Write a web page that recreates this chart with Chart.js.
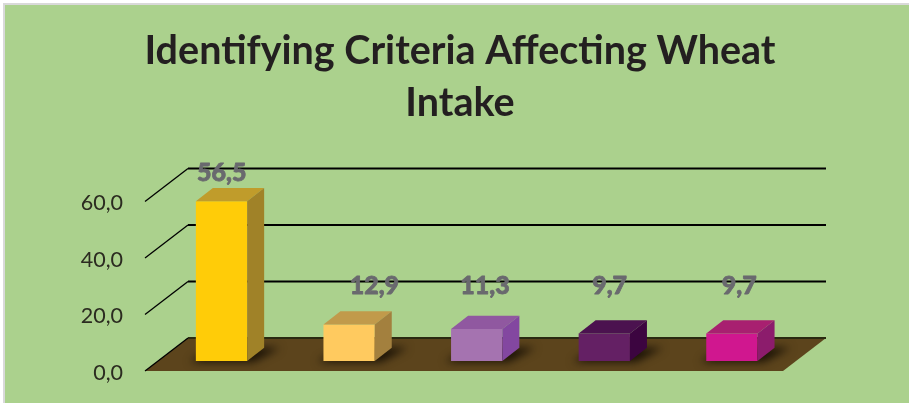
<!DOCTYPE html>
<html>
<head>
<meta charset="utf-8">
<title>Wheat intake criteria</title>
<script src="https://cdn.jsdelivr.net/npm/chart.js@4"></script>
<style>
    html, body { margin: 0; padding: 0; background: #ffffff; overflow: hidden; }
    #frame {
        position: absolute; left: 3px; top: 3px; width: 904px; height: 398px;
        border-left: 2px solid #d9d9d9; border-top: 2px solid #d9d9d9;
        background: #abd18d;
    }
</style>
</head>
<body>
<div id="frame"><canvas id="wheat_chart" width="904" height="398"></canvas></div>
<script>
var categories = ['1', '2', '3', '4', '5'];
var values = [56.5, 12.9, 11.3, 9.7, 9.7];
var tickLabels = ['0,0', '20,0', '40,0', '60,0'];
var titleLines = ['Identifying Criteria Affecting Wheat', 'Intake'];

var frontColors = ['#ffcc08', '#ffca5f', '#a573b0', '#642064', '#d0178f'];
var topColors = ['#c09c2b', '#c19a4b', '#9058a0', '#4b124f', '#a82070'];
var sideColors = ['#a08228', '#a3803e', '#8347a0', '#3c0540', '#8c1c6c'];
// hand placed value labels, relative to the top of each bar
var labelShift = [[13, -38], [38, -49], [21, -53], [18, -58], [20, -58]];

// fake 3d: wall depth, where the bars stand on the floor, and bar depth
var wall = { dx: 43, dy: 33 };
var stand = { dx: 12.7, dy: 10 };
var depth = { dx: 17, dy: 13.3 };

function fmt(v) {
    return v.toFixed(1).replace('.', ',');
}

function poly(ctx, pts, color) {
    ctx.beginPath();
    ctx.moveTo(pts[0][0], pts[0][1]);
    for (var i = 1; i < pts.length; i++) ctx.lineTo(pts[i][0], pts[i][1]);
    ctx.closePath();
    ctx.fillStyle = color;
    ctx.fill();
}

var box3d = {
    id: 'box3d',
    beforeDatasetsDraw: function(chart) {
        var ctx = chart.ctx;
        var area = chart.chartArea;
        var yScale = chart.scales.y;
        var y0 = yScale.getPixelForValue(0);
        var floor = [[area.left, y0], [area.right, y0],
            [area.right + wall.dx, y0 - wall.dy], [area.left + wall.dx, y0 - wall.dy]];

        ctx.save();
        poly(ctx, floor, '#5c441c');

        // shadows on the floor
        ctx.save();
        ctx.beginPath();
        floor.forEach(function(p) { ctx.lineTo(p[0], p[1]); });
        ctx.closePath();
        ctx.clip();
        ctx.filter = 'blur(4px)';
        chart.getDatasetMeta(0).data.forEach(function(bar) {
            var l = bar.x - bar.width / 2 + stand.dx;
            var r = bar.x + bar.width / 2 + stand.dx;
            var b = bar.base - stand.dy;
            poly(ctx, [[l - 6, b + 1], [r + 6, b + 1], [r + depth.dx + 16, b - depth.dy],
                [l + depth.dx, b - depth.dy]], '#1a1206');
        });
        ctx.restore();

        // wall lines
        yScale.ticks.forEach(function(t) {
            var y = yScale.getPixelForValue(t.value);
            ctx.strokeStyle = '#000000';
            ctx.lineWidth = 1.3;
            ctx.beginPath();
            ctx.moveTo(area.left, y);
            ctx.lineTo(area.left + wall.dx, y - wall.dy);
            ctx.stroke();
            ctx.lineWidth = 2;
            ctx.strokeStyle = t.value === 0 ? '#2a2a10' : '#000000';
            ctx.beginPath();
            ctx.moveTo(area.left + wall.dx, y - wall.dy);
            ctx.lineTo(area.right + wall.dx, y - wall.dy);
            ctx.stroke();
        });
        ctx.restore();
    },
    beforeDatasetDraw: function(chart) {
        chart.ctx.save();
        chart.ctx.translate(stand.dx, -stand.dy);
    },
    afterDatasetDraw: function(chart) {
        var ctx = chart.ctx;
        chart.getDatasetMeta(0).data.forEach(function(bar, i) {
            var l = bar.x - bar.width / 2;
            var r = bar.x + bar.width / 2;
            poly(ctx, [[l, bar.y], [r, bar.y], [r + depth.dx, bar.y - depth.dy],
                [l + depth.dx, bar.y - depth.dy]], topColors[i]);
            poly(ctx, [[r, bar.y], [r + depth.dx, bar.y - depth.dy],
                [r + depth.dx, bar.base - depth.dy], [r, bar.base]], sideColors[i]);
        });
        ctx.restore();
    },
    afterDatasetsDraw: function(chart) {
        var ctx = chart.ctx;
        ctx.save();
        ctx.font = '900 25px Lato';
        ctx.fillStyle = '#69696e';
        ctx.strokeStyle = '#69696e';
        ctx.lineWidth = 0.8;
        ctx.lineJoin = 'round';
        ctx.textAlign = 'center';
        ctx.textBaseline = 'middle';
        chart.getDatasetMeta(0).data.forEach(function(bar, i) {
            var x = bar.x + labelShift[i][0];
            var y = bar.y + labelShift[i][1];
            ctx.strokeText(fmt(values[i]), x, y);
            ctx.fillText(fmt(values[i]), x, y);
        });
        ctx.restore();
    }
};

var ctx = document.getElementById('wheat_chart').getContext('2d');
var myChart = new Chart(ctx, {
    type: 'bar',
    data: {
        labels: categories,
        datasets: [{
            data: values,
            backgroundColor: frontColors,
            borderWidth: 0,
            barPercentage: 0.402,
            categoryPercentage: 1,
            clip: false
        }]
    },
    plugins: [box3d],
    options: {
        responsive: false,
        animation: false,
        layout: { padding: { left: 6, right: 0, top: 0, bottom: 32 } },
        plugins: {
            legend: { display: false },
            tooltip: { enabled: false },
            title: {
                display: true,
                text: titleLines,
                color: '#231f20',
                font: { family: 'Lato', size: 39.5, weight: 'bold', lineHeight: 1.316 },
                padding: { top: 20, bottom: 72.5 }
            }
        },
        scales: {
            x: { display: false },
            y: {
                min: 0,
                max: 60,
                afterFit: function(scale) { scale.width = 134; },
                // tick length instead of tick padding, padding would also pad the plot bottom
                grid: { display: false, drawTicks: true, tickLength: 22 },
                border: { display: false },
                ticks: {
                    stepSize: 20,
                    padding: 0,
                    labelOffset: 2,
                    color: '#2b2b20',
                    font: { family: 'Lato', size: 21.5 },
                    callback: function(value, index) { return tickLabels[index]; }
                }
            },
            // empty axis, only keeps the plot clear of the right side
            gutter: {
                position: 'right',
                afterFit: function(scale) { scale.width = 126; },
                grid: { display: false, drawTicks: false },
                border: { display: false },
                ticks: { display: false }
            }
        }
    }
});
</script>
</body>
</html>
